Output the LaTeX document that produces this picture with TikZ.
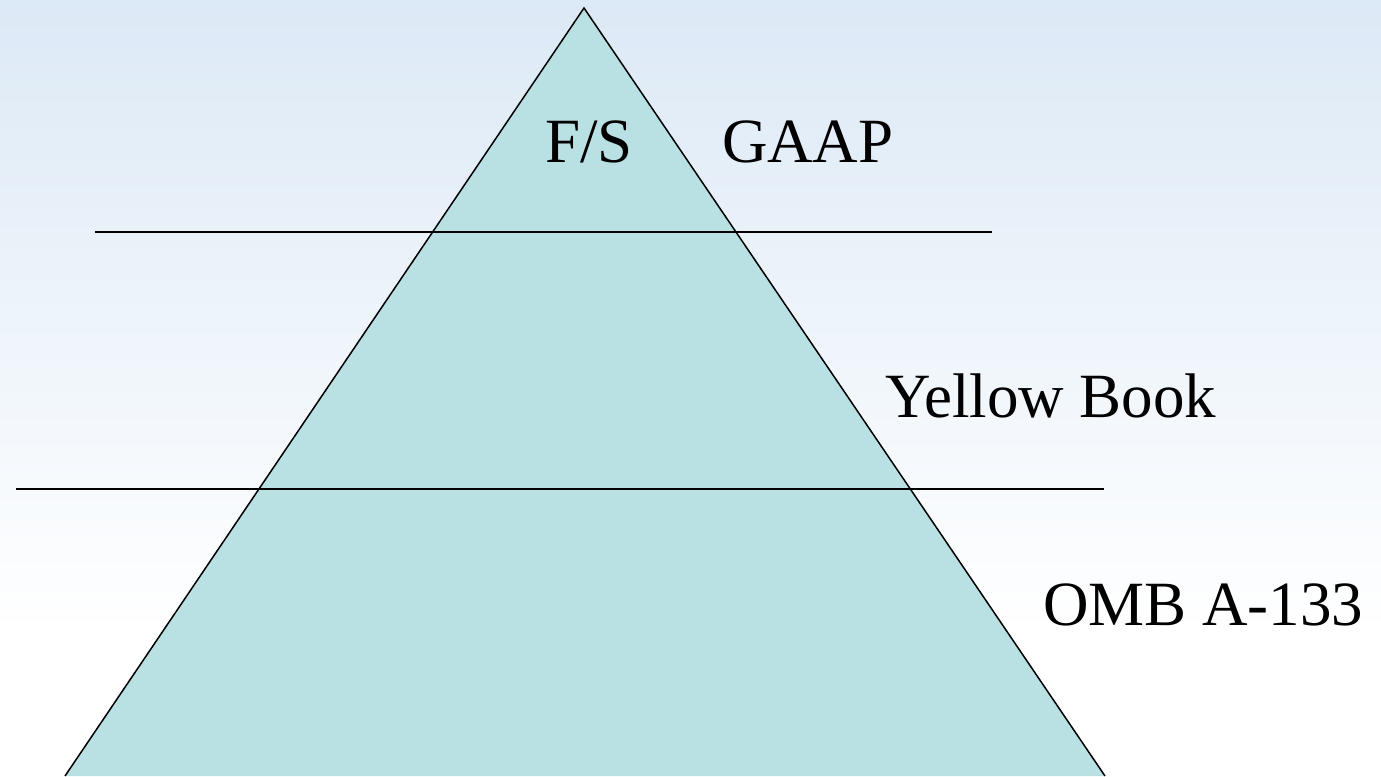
\documentclass[tikz,border=0pt]{standalone}
\usepackage{fontspec}
\setmainfont{Liberation Serif}
\newcommand*{\pyrfont}{\fontsize{63}{70}\selectfont}
\definecolor{sky}{RGB}{220,233,246}
\definecolor{pyr}{RGB}{185,224,227}
\usepackage{tikz}
\usetikzlibrary{positioning}
\tikzstyle{base}=[x=1pt, y=-1pt, inner sep=0pt, outer sep=0pt]
\tikzstyle{level}=[black, line width=1.5pt]
\tikzstyle{label}=[anchor=base west, black]

\begin{document}
\begin{tikzpicture}[base]
    \pyrfont
        \shade [top color=sky, bottom color=white] (0,0) rectangle (1381,635);
        \fill [white] (0,635) rectangle (1381,776);
        \coordinate (apex) at (584,8);
        \coordinate (left) at (65,776);
        \coordinate (right) at (1105,776);
        \draw [level, fill=pyr] (left) -- (apex) -- (right);
        \draw [level] (95,232) -- (992,232);
        \draw [level] (16,489) -- (1104,489);
        \node [label] (fs) at (545,162) {F/S};
        \node [label] (gaap) at (722,162) {GAAP};
        \node [label] (yellow) at (885,417) {Yellow Book};
        \node [label] (omb) at (1043,625) {OMB A-133};
        \path [use as bounding box] (0,0) rectangle (1381,776);
    \end{tikzpicture}
\end{document}
